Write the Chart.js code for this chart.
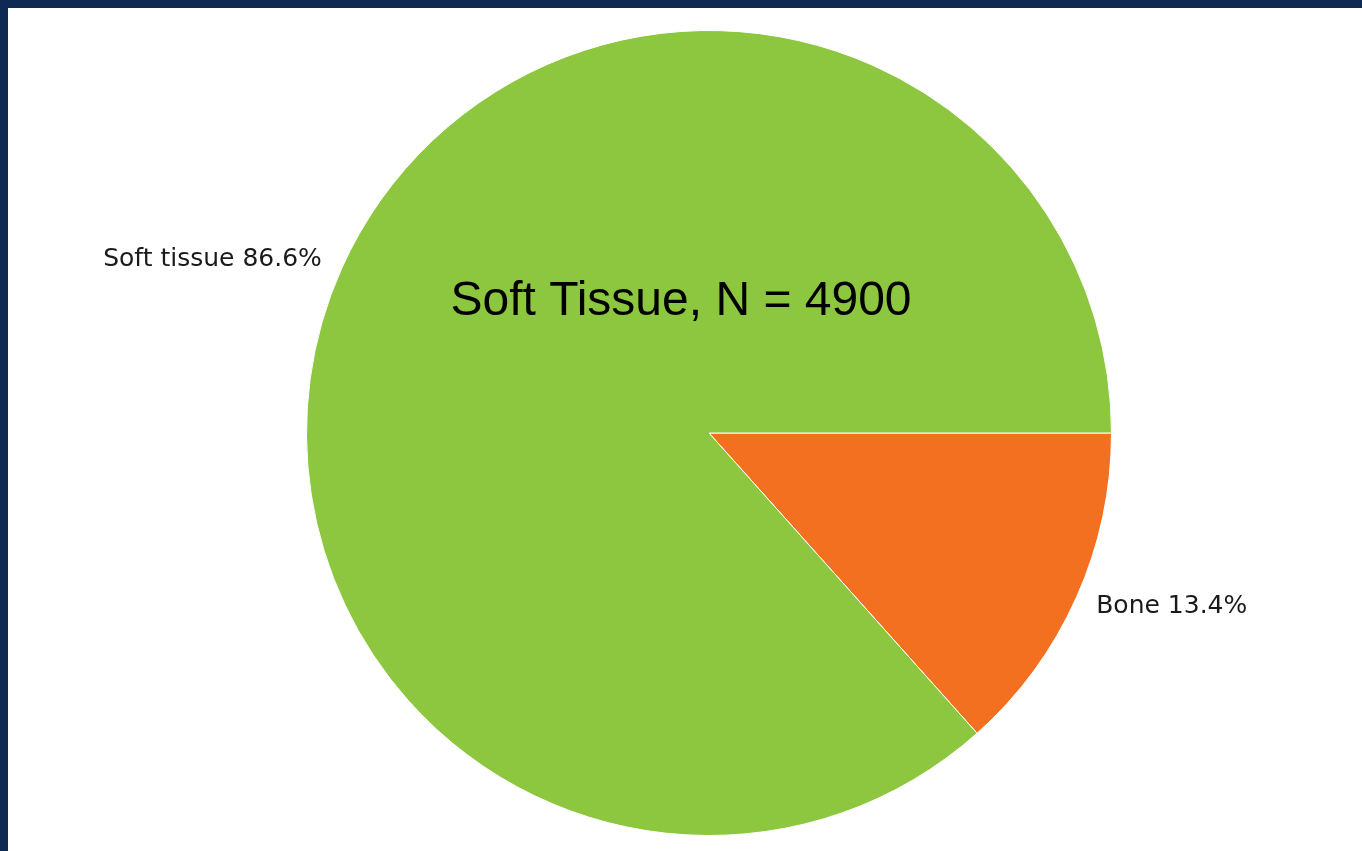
<!DOCTYPE html>
<html>
<head>
<meta charset="utf-8">
<script src="https://cdn.jsdelivr.net/npm/chart.js@4"></script>
<style>
    html, body { margin: 0; padding: 0; }
    body { background: #0e2a54; width: 1362px; height: 851px; overflow: hidden; }
    .panel { position: absolute; left: 8px; top: 8px; width: 1354px; height: 843px; background: #ffffff; }
</style>
</head>
<body>
<div class="panel"><canvas id="myChart"></canvas></div>
<script>
const categories = ['Bone', 'Soft tissue'];
const shares = [13.4, 86.6];
const sliceColors = ['#f37021', '#8dc63f'];
const heading = 'Soft Tissue, N = 4900';

// writes "Soft tissue 86.6%" style labels just outside each slice
const sliceLabels = {
    id: 'sliceLabels',
    afterDraw(chart) {
        const ctx = chart.ctx;
        const arcs = chart.getDatasetMeta(0).data;
        ctx.save();
        ctx.font = '25px "DejaVu Sans"';
        ctx.fillStyle = '#1a1a1a';
        ctx.textBaseline = 'middle';
        arcs.forEach((arc, i) => {
            const mid = (arc.startAngle + arc.endAngle) / 2;
            const r = arc.outerRadius * 1.054;
            const x = arc.x + Math.cos(mid) * r;
            const y = arc.y + Math.sin(mid) * r;
            ctx.textAlign = Math.cos(mid) < 0 ? 'right' : 'left';
            ctx.fillText(`${categories[i]} ${shares[i].toFixed(1)}%`, x, y);
        });

        const first = arcs[0];
        ctx.font = '48px "Liberation Sans", Arial, sans-serif';
        ctx.fillStyle = '#000000';
        ctx.textAlign = 'center';
        ctx.textBaseline = 'alphabetic';
        ctx.fillText(heading, first.x - 28, first.y - 118);
        ctx.restore();
    }
};

new Chart(document.getElementById('myChart'), {
    type: 'pie',
    data: {
        labels: categories,
        datasets: [{
            data: shares,
            backgroundColor: sliceColors,
            borderColor: '#ffffff',
            borderWidth: 1
        }]
    },
    options: {
        responsive: true,
        maintainAspectRatio: false,
        animation: false,
        rotation: 90,
        events: [],
        layout: {
            padding: { left: 298, right: 250, top: 21, bottom: 14 }
        },
        plugins: {
            legend: { display: false },
            tooltip: { enabled: false }
        }
    },
    plugins: [sliceLabels]
});
</script>
</body>
</html>
